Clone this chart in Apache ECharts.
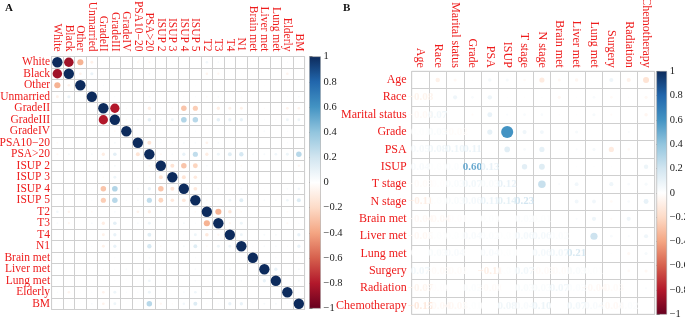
<!DOCTYPE html>
<html><head><meta charset="utf-8">
<script src="https://cdn.jsdelivr.net/npm/echarts@6/dist/echarts.min.js"></script>
<style>html,body{margin:0;padding:0;background:#fff}#c{width:685px;height:319px}</style>
</head><body><div id="c"></div>
<script>
// ---------- DATA ----------
const labelsA = ['White','Black','Other','Unmarried','GradeII','GradeIII','GradeIV','PSA10\u221220','PSA>20',
  'ISUP 2','ISUP 3','ISUP 4','ISUP 5','T2','T3','T4','N1','Brain met','Liver met','Lung met','Elderly','BM'];
// lower triangle of panel A correlation matrix (row i, columns 0..i-1); diagonal = 1
const corrA_lower = [
  [],
  [-0.85],
  [-0.35,-0.07],
  [-0.08,0.09,0.02],
  [0.01,-0.01,0.02,0.01],
  [-0.02,0.01,0.01,0.02,-0.80],
  [0.00,0.00,0.00,0.01,-0.02,-0.03],
  [-0.03,0.01,0.01,0.01,0.01,0.04,0.00],
  [-0.04,0.04,0.01,0.04,-0.10,0.12,0.01,-0.15],
  [0.01,0.01,0.00,0.01,0.02,0.04,0.00,0.02,-0.04],
  [0.01,0.00,0.01,0.01,-0.03,0.08,0.00,0.02,0.03,-0.15],
  [0.01,0.01,0.01,0.02,-0.28,0.30,0.01,0.04,0.10,-0.28,-0.15],
  [0.00,0.00,0.01,0.02,-0.25,0.28,0.02,0.03,0.25,-0.22,-0.12,-0.13],
  [0.06,-0.06,0.01,-0.03,0.01,0.03,0.00,-0.07,-0.10,0.03,0.02,-0.02,-0.03],
  [0.03,-0.05,0.01,0.03,-0.10,0.12,0.01,0.03,0.08,-0.02,0.01,0.04,0.02,-0.35],
  [0.01,0.00,0.01,0.01,-0.08,0.10,0.00,0.01,0.14,-0.02,0.00,0.02,0.08,-0.12,-0.05],
  [0.00,0.01,0.00,0.02,-0.08,0.10,0.01,0.01,0.18,-0.03,-0.01,0.04,0.14,-0.03,0.08,0.08],
  [0.00,0.00,0.00,0.00,0.00,0.02,0.00,0.00,0.03,0.00,0.00,0.01,0.02,0.00,0.00,0.01,0.02],
  [0.00,0.00,0.01,0.00,-0.02,0.02,0.03,0.00,0.04,0.00,0.00,0.01,0.03,0.00,0.01,0.04,0.03,0.01],
  [0.01,0.00,0.00,0.01,-0.01,0.02,0.01,0.01,0.07,0.00,0.00,0.01,0.03,0.00,0.01,0.04,0.03,0.02,0.10],
  [0.02,-0.06,0.01,0.02,-0.07,0.08,0.02,0.02,0.08,-0.01,0.00,0.03,0.07,-0.03,-0.04,0.01,0.02,0.00,0.00,0.01],
  [0.01,0.00,0.01,0.03,-0.07,0.08,0.01,0.01,0.28,-0.05,-0.02,0.06,0.15,-0.02,0.02,0.10,0.10,0.02,0.04,0.04,0.02]
];
const labelsB = ['Age','Race','Marital status','Grade','PSA','ISUP','T stage','N stage','Brain met','Liver met',
  'Lung met','Surgery','Radiation','Chemotherapy'];
const corrB_lower = [
  [],
  [-0.08],
  [-0.04,0.07],
  [0.01,0.03,-0.02],
  [0.05,0.08,0.10,0.11],
  [0.04,0.01,0.02,0.60,0.13],
  [-0.03,-0.01,0.03,0.07,0.03,0.12],
  [-0.11,0.01,0.03,0.06,0.11,0.14,0.23],
  [-0.04,-0.04,-0.01,0.00,0.01,0.00,0.02,0.01],
  [-0.05,0.01,0.01,0.04,0.02,0.01,0.06,0.06,0.02],
  [0.00,0.03,0.04,0.00,0.04,0.01,0.00,0.06,0.07,0.21],
  [0.07,-0.03,-0.02,0.00,-0.11,0.01,0.07,-0.03,-0.02,0.03,0.01],
  [-0.07,-0.01,0.00,0.02,-0.03,0.00,0.03,0.03,0.07,0.02,-0.04,-0.03],
  [-0.15,-0.04,-0.05,0.01,0.00,0.08,0.04,0.10,0.00,0.07,0.04,-0.04,0.02]
];
const colorbarMin = -1, colorbarMax = 1, colorbarStep = 0.2;
// RdBu palette from -1 to 1
const palette = ['#67001F','#B2182B','#D6604D','#F4A582','#FDDBC7','#FFFFFF','#D1E5F0','#92C5DE','#4393C3','#2166AC','#0d2b5c'];

// ---------- helpers ----------
function hex2rgb(h){return [parseInt(h.substr(1,2),16),parseInt(h.substr(3,2),16),parseInt(h.substr(5,2),16)];}
function colorFor(r){
  let t = (r+1)/2*(palette.length-1);
  t = Math.max(0, Math.min(palette.length-1, t));
  const i = Math.min(Math.floor(t), palette.length-2), f = t-i;
  const a = hex2rgb(palette[i]), b = hex2rgb(palette[i+1]);
  const c = a.map((v,k)=>Math.round(v+(b[k]-v)*f));
  return 'rgb('+c.join(',')+')';
}
function fullMatrix(lower){
  const n = lower.length, M = [];
  for(let i=0;i<n;i++){M.push([]);for(let j=0;j<n;j++){
    M[i].push(i===j?1:(j<i?lower[i][j]:lower[j][i]));}}
  return M;
}
function fmt(r){return (r<0?'\u2212':'')+Math.abs(r).toFixed(2);}
function tickFmt(v){const x=Math.round(v*10)/10; if(x===0) return '0'; return (x<0?'\u2212':'')+String(Math.abs(x));}

const MA = fullMatrix(corrA_lower), MB = fullMatrix(corrB_lower);
const dataA = [];
for(let i=0;i<MA.length;i++) for(let j=0;j<MA.length;j++) dataA.push([j,i,MA[i][j]]);
const dataBcircles = [], dataBtext = [];
for(let i=0;i<MB.length;i++) for(let j=0;j<MB.length;j++){
  if(j>i) dataBcircles.push([j,i,MB[i][j]]);
  else if(j<i) dataBtext.push({value:[j,i,MB[i][j]], label:{color:colorFor(MB[i][j])}});
}

const red = '#ee1c1c', serif = 'Liberation Serif', gridCol = '#cfcfcf';
const cellA = 11.5, cellB = 17.36;
function catAxes(gi, labels, isX, fs, margin){
  const base = {gridIndex:gi, type:'category', data:labels,
    axisLine:{show:false}, axisTick:{show:false},
    splitLine:{show:true, interval:0, lineStyle:{color:gridCol, width:1}},
    axisLabel:{interval:0, color:red, fontFamily:serif, fontSize:fs, margin:margin}};
  if(isX){ base.position='top'; base.axisLabel.rotate=90; base.axisLabel.verticalAlign='middle'; }
  else { base.inverse=true; }
  return base;
}
const stops = palette.map((c,k)=>({offset:k/(palette.length-1), color:palette[palette.length-1-k]}));
function colorbarSeries(gi){
  return {type:'custom', xAxisIndex:gi, yAxisIndex:gi, data:[[0,0]], silent:true,
    renderItem:(p,api)=>{const a=api.coord([0,colorbarMax]), b=api.coord([1,colorbarMin]);
      return {type:'rect', shape:{x:a[0],y:a[1],width:b[0]-a[0],height:b[1]-a[1]},
        style:{fill:new echarts.graphic.LinearGradient(0,0,0,1,stops), stroke:'#999', lineWidth:0.5}};}};
}
function cbY(gi){return {gridIndex:gi, type:'value', min:colorbarMin, max:colorbarMax, interval:colorbarStep,
  position:'right', axisLine:{show:false}, splitLine:{show:false},
  axisTick:{show:true, length:3, lineStyle:{color:'#444', width:0.8}},
  axisLabel:{formatter:tickFmt, color:'#222', fontFamily:serif, fontSize:10.5, margin:3}};}
function cbX(gi){return {gridIndex:gi, type:'value', min:0, max:1, show:false};}

const chart = echarts.init(document.getElementById('c'), null, {renderer:'canvas'});
const gb = {outerBoundsMode:'none', containLabel:false};
chart.setOption({
  backgroundColor:'#fff',
  animation:false,
  grid:[
    Object.assign({left:51.6, top:56.5, width:cellA*22, height:cellA*22, show:true, borderColor:gridCol, borderWidth:1}, gb),
    Object.assign({left:309.5, top:56.7, width:11, height:251.6}, gb),
    Object.assign({left:411.7, top:71.3, width:cellB*14, height:cellB*14, show:true, borderColor:gridCol, borderWidth:1}, gb),
    Object.assign({left:656.7, top:71.3, width:10, height:243}, gb)
  ],
  xAxis:[catAxes(0,labelsA,true,11.5,5), cbX(1), catAxes(2,labelsB,true,12,3.5), cbX(3)],
  yAxis:[catAxes(0,labelsA,false,11.5,1.5), cbY(1), catAxes(2,labelsB,false,12,5), cbY(3)],
  graphic:[
    {type:'text', left:5, top:3, style:{text:'A', font:'bold 11px "Liberation Serif"', fill:'#111'}},
    {type:'text', left:343, top:3, style:{text:'B', font:'bold 11px "Liberation Serif"', fill:'#111'}}
  ],
  series:[
    {type:'scatter', xAxisIndex:0, yAxisIndex:0, data:dataA, silent:true,
      symbolSize:v=>cellA*0.9*Math.sqrt(Math.abs(v[2])),
      itemStyle:{color:p=>colorFor(p.value[2]), opacity:1}},
    colorbarSeries(1),
    {type:'scatter', xAxisIndex:2, yAxisIndex:2, data:dataBcircles, silent:true,
      symbolSize:v=>cellB*0.9*Math.sqrt(Math.abs(v[2])),
      itemStyle:{color:p=>colorFor(p.value[2]), opacity:1}},
    {type:'scatter', xAxisIndex:2, yAxisIndex:2, data:dataBtext, silent:true, symbolSize:1,
      itemStyle:{color:'rgba(0,0,0,0)'},
      labelLayout:{hideOverlap:false},
      label:{show:true, position:'inside', formatter:p=>fmt(p.value[2]),
        fontFamily:serif, fontWeight:'bold', fontSize:11}},
    colorbarSeries(3)
  ]
});
</script></body></html>
